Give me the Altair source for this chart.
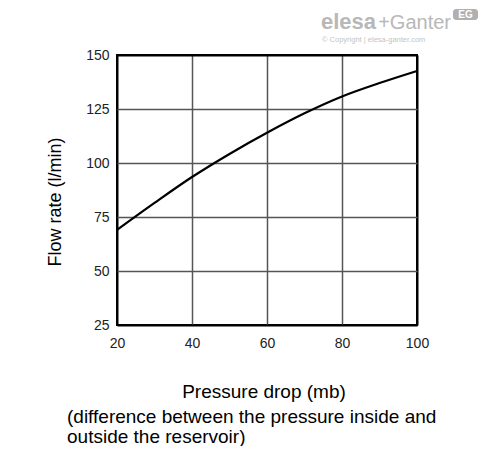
import altair as alt
import pandas as pd

# --- data ---
pressure = [20, 30, 40, 50, 60, 70, 80, 90, 100]
flow = [69, 81.5, 93.5, 104.2, 114, 123, 130.8, 137, 142.6]
x_ticks = [20, 40, 60, 80, 100]
y_ticks = [25, 50, 75, 100, 125, 150]

x_title = "Pressure drop (mb)"
y_title = "Flow rate (l/min)"
note_lines = ["(difference between the pressure inside and", "outside the reservoir)"]
brand_a = ["elesa"]
brand_b = ["+Ganter"]
copyright_txt = ["© Copyright | elesa-ganter.com"]
logo_txt = ["EG"]

df = pd.DataFrame({"pressure": pressure, "flow": flow})

FONT = "Liberation Sans"
LABEL_FONT = "Liberation Sans Narrow, Arial Narrow, Liberation Sans"
EDGE_X = "datum.value == 20 || datum.value == 100"
EDGE_Y = "datum.value == 25 || datum.value == 150"

line = alt.Chart(df).mark_line(
    color="black", strokeWidth=2.2, interpolate="monotone"
).encode(
    x=alt.X(
        "pressure:Q",
        scale=alt.Scale(domain=[20, 100], nice=False, zero=False),
        axis=alt.Axis(
            values=x_ticks,
            title=x_title,
            titleX=146.5,
            titleY=72.7,
            titleBaseline="alphabetic",
            titleAlign="center",
            labelPadding=11,
            labelFlush=False,
            gridColor=alt.condition(EDGE_X, alt.value("black"), alt.value("#555555")),
            gridWidth=alt.condition(EDGE_X, alt.value(2), alt.value(1.5)),
        ),
    ),
    y=alt.Y(
        "flow:Q",
        scale=alt.Scale(domain=[25, 150], nice=False, zero=False),
        axis=alt.Axis(
            values=y_ticks,
            title=y_title,
            titleX=-57,
            titleY=146.5,
            titleAngle=-90,
            titleBaseline="alphabetic",
            titleAlign="center",
            titleFontSize=18,
            labelPadding=8,
            labelFlush=False,
            gridColor=alt.condition(EDGE_Y, alt.value("black"), alt.value("#555555")),
            gridWidth=alt.condition(EDGE_Y, alt.value(2), alt.value(1.5)),
        ),
    ),
)

wm_a = alt.Chart(pd.DataFrame({"t": brand_a})).mark_text(
    font=FONT, fontSize=22, fontWeight="bold", color="#b8b8b8",
    align="left", baseline="alphabetic"
).encode(text="t:N", x=alt.value(204), y=alt.value(-26))

wm_b = alt.Chart(pd.DataFrame({"t": brand_b})).mark_text(
    font=FONT, fontSize=20, color="#b8b8b8", align="right", baseline="alphabetic"
).encode(text="t:N", x=alt.value(334), y=alt.value(-26))

wm_c = alt.Chart(pd.DataFrame({"t": copyright_txt})).mark_text(
    font=FONT, fontSize=7.5, color="#c4c4c4", align="left", baseline="alphabetic"
).encode(text="t:N", x=alt.value(205), y=alt.value(-13.5))

logo_box = alt.Chart(pd.DataFrame({"t": logo_txt})).mark_rect(
    color="#b0b0b0", cornerRadius=3
).encode(x=alt.value(336), x2=alt.value(361), y=alt.value(-46), y2=alt.value(-35))

logo_t = alt.Chart(pd.DataFrame({"t": logo_txt})).mark_text(
    font=FONT, fontSize=10, fontWeight="bold", color="white", align="center",
    baseline="middle"
).encode(text="t:N", x=alt.value(348.5), y=alt.value(-40.5))

chart = alt.layer(line, wm_a, wm_b, wm_c, logo_box, logo_t).properties(
    width=300,
    height=270,
    autosize=alt.AutoSizeParams(type="none"),
    padding={"left": 109, "top": 47, "right": 63, "bottom": 121},
    title=alt.TitleParams(
        text=note_lines,
        orient="bottom",
        anchor="start",
        frame="group",
        dx=-50,
        offset=6,
        font=FONT,
        fontSize=19,
        fontWeight="normal",
        lineHeight=20.5,
        color="black",
    ),
).configure_view(
    stroke="black", strokeWidth=2
).configure_axis(
    domain=False,
    ticks=False,
    labelFont=LABEL_FONT,
    labelFontSize=14,
    labelColor="#222222",
    titleFont=FONT,
    titleFontSize=19,
    titleFontWeight="normal",
    titleColor="black",
    gridOpacity=1,
)

chart.save("out.html", embed_options={"renderer": "svg", "actions": False})
